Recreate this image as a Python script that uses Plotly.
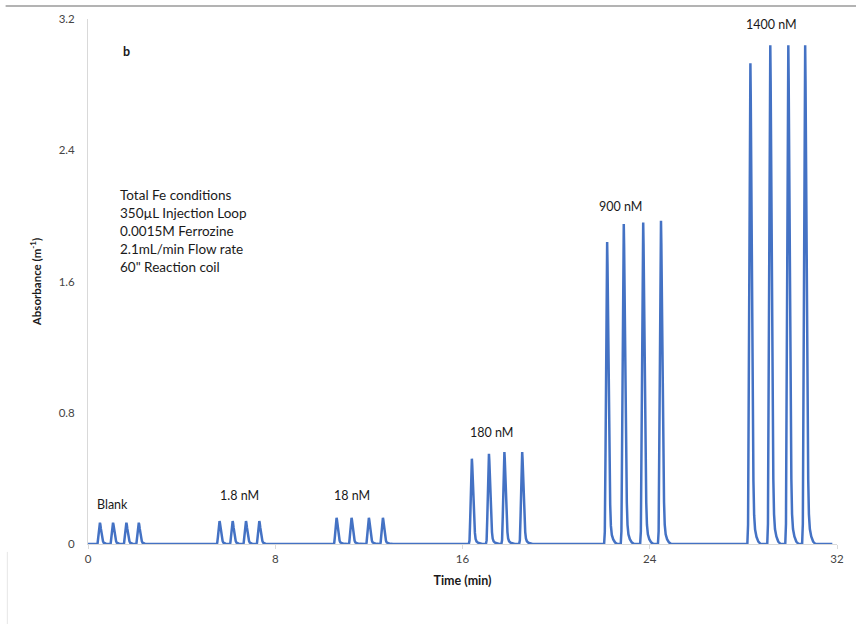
import plotly.graph_objects as go

# Injection groups: label, peak apex times (min), peak heights (absorbance)
group_labels = ["Blank", "1.8 nM", "18 nM", "180 nM", "900 nM", "1400 nM"]
peak_times = [
    [0.51, 1.07, 1.64, 2.17],
    [5.62, 6.18, 6.75, 7.32],
    [10.62, 11.26, 12.00, 12.60],
    [16.40, 17.13, 17.79, 18.55],
    [22.18, 22.89, 23.72, 24.48],
    [28.30, 29.15, 29.92, 30.64],
]
peak_heights = [
    [0.13, 0.13, 0.13, 0.13],
    [0.14, 0.14, 0.14, 0.14],
    [0.16, 0.16, 0.16, 0.16],
    [0.52, 0.55, 0.56, 0.56],
    [1.84, 1.95, 1.96, 1.97],
    [2.93, 3.04, 3.04, 3.04],
]

# Normalised FIA peak profile: offset from apex (min) and fraction of apex height
profile_offsets = [-0.13, -0.10, -0.07, -0.04, -0.015, 0.0, 0.015, 0.04, 0.07,
                   0.10, 0.13, 0.16, 0.20, 0.26, 0.34, 0.44]
profile_fracs = [0.0, 0.04, 0.30, 0.70, 0.95, 1.0, 0.93, 0.72, 0.47,
                 0.27, 0.13, 0.06, 0.03, 0.015, 0.005, 0.0]

run_start, run_end = 0.0, 31.8

# Label positions (time, absorbance)
label_x = [1.06, 6.47, 11.28, 17.23, 22.77, 29.19]
label_y = [0.242, 0.297, 0.297, 0.679, 2.06, 3.164]

conditions = [
    "Total Fe conditions",
    "350\u00b5L Injection Loop",
    "0.0015M Ferrozine",
    "2.1mL/min Flow rate",
    '60" Reaction coil',
]

# Assemble the detector trace from the peak list
t_vals = [run_start]
a_vals = [0.0]
for times, heights in zip(peak_times, peak_heights):
    for t0, h in zip(times, heights):
        for off, fr in zip(profile_offsets, profile_fracs):
            t_vals.append(t0 + off)
            a_vals.append(h * fr)
t_vals.append(run_end)
a_vals.append(0.0)

fig = go.Figure()
fig.add_trace(go.Scatter(
    x=t_vals, y=a_vals, mode="lines",
    line=dict(color="#4472C4", width=2.5, shape="linear"),
    showlegend=False, hoverinfo="skip",
))

font_family = "Lato, 'Open Sans', sans-serif"
text_color = "#1a1a1a"
annotations = []
for lab, lx, ly in zip(group_labels, label_x, label_y):
    annotations.append(dict(x=lx, y=ly, xref="x", yref="y", text=lab,
                            showarrow=False, xanchor="center", yanchor="middle",
                            font=dict(family=font_family, size=12.5, color=text_color)))

for i, line in enumerate(conditions):
    annotations.append(dict(x=1.28, y=(544 - (193 + 18 * i)) / 165.0, xref="x", yref="y",
                            text=line, showarrow=False, xanchor="left", yanchor="middle",
                            font=dict(family=font_family, size=13.5, color=text_color)))

annotations.append(dict(x=1.66, y=3.0, xref="x", yref="y", text="<b>b</b>",
                        showarrow=False, xanchor="center", yanchor="middle",
                        font=dict(family=font_family, size=12.5, color=text_color)))

shapes = [
    dict(type="line", xref="paper", yref="paper", x0=-0.11, x1=1.03,
         y0=1.0246, y1=1.0246, line=dict(color="#9a9a9a", width=1.5)),
    dict(type="line", xref="paper", yref="paper", x0=-0.1077, x1=-0.1077,
         y0=-0.015, y1=-0.16, line=dict(color="#e6e6e6", width=1)),
]

fig.update_layout(
    width=856, height=624,
    margin=dict(l=88, r=16, t=16, b=80),
    paper_bgcolor="white", plot_bgcolor="white",
    font=dict(family=font_family, size=11.5, color="#444444"),
    annotations=annotations, shapes=shapes,
    xaxis=dict(
        range=[0, 32], tickmode="linear", tick0=0, dtick=8,
        showgrid=False, zeroline=False,
        showline=True, linecolor="#d9d9d9", linewidth=1,
        ticks="outside", ticklen=4, tickcolor="#d9d9d9",
        tickfont=dict(family=font_family, size=11.5, color="#444444"),
        title=dict(text="<b>Time (min)</b>", standoff=12,
                   font=dict(family=font_family, size=12.5, color=text_color)),
    ),
    yaxis=dict(
        range=[0, 3.2], tickmode="linear", tick0=0, dtick=0.8,
        showgrid=False, zeroline=False,
        showline=True, linecolor="#d9d9d9", linewidth=1,
        ticks="", ticklabelstandoff=10,
        tickfont=dict(family=font_family, size=11.5, color="#444444"),
        title=dict(text="<b>Absorbance (m<sup>-1</sup>)</b>", standoff=14,
                   font=dict(family=font_family, size=11.5, color=text_color)),
    ),
)

fig.write_html("out.html")
